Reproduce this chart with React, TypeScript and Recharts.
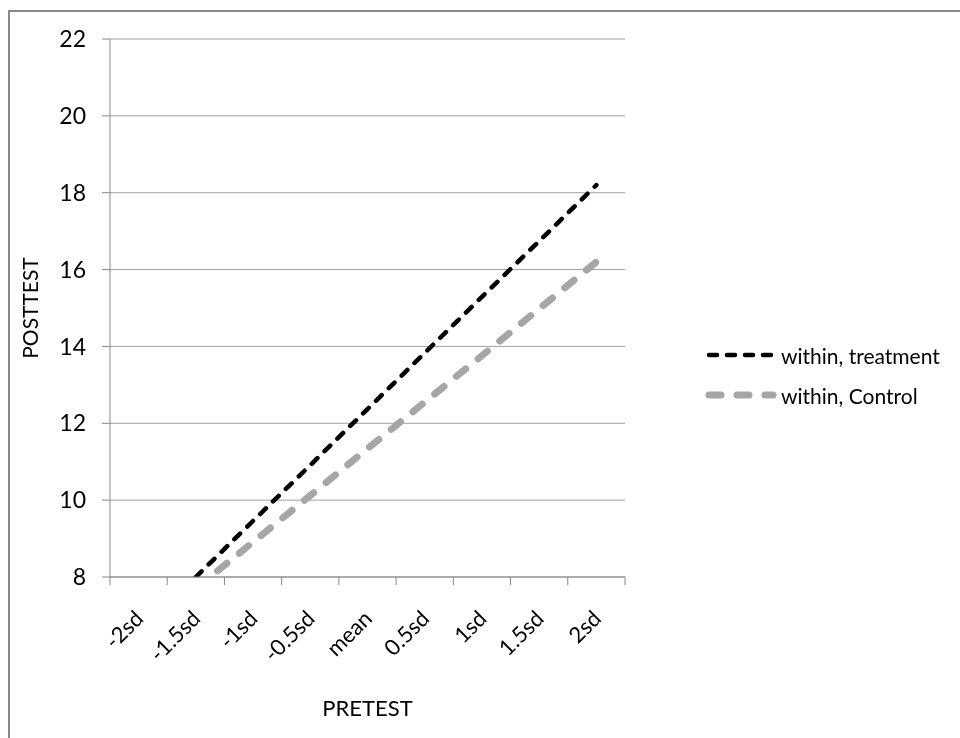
import React from 'react'
import { LineChart, Line, XAxis, YAxis, CartesianGrid, Legend } from 'recharts'

const CATEGORIES = ['-2sd', '-1.5sd', '-1sd', '-0.5sd', 'mean', '0.5sd', '1sd', '1.5sd', '2sd']
const TREATMENT = [null, 8.0, 9.46, 10.91, 12.37, 13.83, 15.29, 16.74, 18.2]
const CONTROL = [null, 7.7, 8.91, 10.12, 11.34, 12.55, 13.76, 14.98, 16.2]
const Y_TICKS = [8, 10, 12, 14, 16, 18, 20, 22]

const SERIES = [
  { key: 'treatment', name: 'within, treatment', color: '#000000', width: 4.5, dash: '8 10' },
  { key: 'control', name: 'within, Control', color: '#a6a6a6', width: 7, dash: '12 16' },
]

const data = CATEGORIES.map((c, i) => ({ cat: c, treatment: TREATMENT[i], control: CONTROL[i] }))

const FONT = 'Lato, "Open Sans", sans-serif'
const PLOT_W = 515
const HALF = PLOT_W / CATEGORIES.length / 2

function XTick(props: any) {
  const { x, y, payload, index } = props
  const last = index === CATEGORIES.length - 1
  const tx = x + 6
  const ty = y + 43
  return (
    <g>
      <line x1={x - HALF} y1={y} x2={x - HALF} y2={y + 8} stroke="#878787" />
      {last && <line x1={x + HALF} y1={y} x2={x + HALF} y2={y + 8} stroke="#878787" />}
      <text
        x={tx}
        y={ty}
        textAnchor="end"
        transform={`rotate(-45 ${tx} ${ty})`}
        fontFamily={FONT}
        fontSize={22}
        fill="#000"
      >
        {payload.value}
      </text>
    </g>
  )
}

function LegendContent() {
  return (
    <div style={{ fontFamily: FONT, fontSize: 21, color: '#000' }}>
      {SERIES.map((s) => (
        <div key={s.key} style={{ display: 'flex', alignItems: 'center', height: 40 }}>
          <svg width={72} height={20}>
            <line
              x1={4}
              y1={10}
              x2={68}
              y2={10}
              stroke={s.color}
              strokeWidth={s.width}
              strokeDasharray={s.dash}
              strokeLinecap="round"
            />
          </svg>
          <span style={{ marginLeft: 4 }}>{s.name}</span>
        </div>
      ))}
    </div>
  )
}

export default function App() {
  return (
    <div style={{ position: 'relative', width: 944, height: 722, background: '#fff' }}>
      <div
        style={{
          position: 'fixed',
          left: 8,
          top: 10,
          right: 0,
          bottom: 0,
          borderLeft: '2px solid #898989',
          borderTop: '2px solid #898989',
          pointerEvents: 'none',
        }}
      />
      <div style={{ position: 'absolute', left: 0, top: 0 }}>
        <LineChart width={940} height={722} data={data} margin={{ top: 31, right: 323, left: 0, bottom: 0 }}>
          <CartesianGrid vertical={false} stroke="#a0a0a0" />
          <XAxis
            dataKey="cat"
            padding={{ left: HALF, right: HALF }}
            height={153}
            tickLine={false}
            tickSize={0}
            tickMargin={0}
            axisLine={{ stroke: '#878787' }}
            tick={<XTick />}
            interval={0}
            label={{
              content: ({ viewBox }: any) => (
                <text
                  x={viewBox.x + viewBox.width / 2}
                  y={702}
                  textAnchor="middle"
                  dominantBaseline="middle"
                  fontFamily={FONT}
                  fontSize={22}
                  fill="#000"
                >
                  PRETEST
                </text>
              ),
            }}
          />
          <YAxis
            width={102}
            domain={[8, 22]}
            ticks={Y_TICKS}
            allowDataOverflow
            tickSize={8}
            tickMargin={16}
            tickLine={{ stroke: '#878787' }}
            axisLine={{ stroke: '#878787' }}
            tick={{ fontFamily: FONT, fontSize: 23, fill: '#000' }}
            label={{
              content: ({ viewBox }: any) => (
                <text
                  x={25}
                  y={viewBox.y + viewBox.height / 2}
                  textAnchor="middle"
                  dominantBaseline="middle"
                  transform={`rotate(-90 25 ${viewBox.y + viewBox.height / 2})`}
                  fontFamily={FONT}
                  fontSize={21}
                  fill="#000"
                >
                  POSTTEST
                </text>
              ),
            }}
          />
          <Legend
            layout="horizontal"
            verticalAlign="middle"
            align="center"
            content={<LegendContent />}
            wrapperStyle={{ position: 'absolute', left: 697, top: 327, width: 250 }}
          />
          {SERIES.map((s) => (
            <Line
              key={s.key}
              type="linear"
              dataKey={s.key}
              name={s.name}
              stroke={s.color}
              strokeWidth={s.width}
              strokeDasharray={s.dash}
              strokeLinecap="round"
              dot={false}
              activeDot={false}
              connectNulls={false}
              isAnimationActive={false}
            />
          ))}
        </LineChart>
      </div>
    </div>
  )
}
